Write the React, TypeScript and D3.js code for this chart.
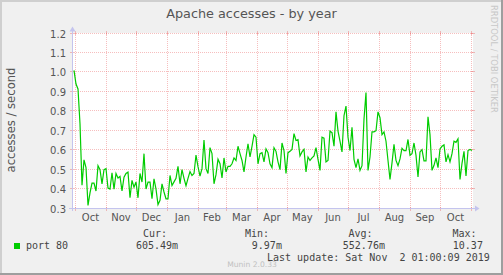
import React from "react";
import * as d3 from "d3";

const title = "Apache accesses - by year";
const yAxisTitle = "accesses / second";
const yTicks = [0.3, 0.4, 0.5, 0.6, 0.7, 0.8, 0.9, 1.0, 1.1, 1.2];
const seriesName = "port 80";
const legendHeaders = ["Cur:", "Min:", "Avg:", "Max:"];
const legendValues = ["605.49m", "9.97m", "552.76m", "10.37"];
const lastUpdate = "Last update: Sat Nov  2 01:00:09 2019";
const footer = "Munin 2.0.33";
const watermark = "RRDTOOL / TOBI OETIKER";

// samples every 2 days starting 2018-09-30 01:00
const seriesStart = new Date(2018, 8, 30, 1);
const stepDays = 2;
const values = [
  1.01, 0.94, 0.915, 0.736, 0.42, 0.55, 0.51, 0.316, 0.38, 0.43,
  0.43, 0.39, 0.52, 0.5, 0.427, 0.5, 0.505, 0.405, 0.4, 0.484,
  0.4, 0.48, 0.457, 0.465, 0.39, 0.461, 0.48, 0.487, 0.355, 0.445,
  0.41, 0.436, 0.355, 0.48, 0.436, 0.582, 0.4, 0.436, 0.436, 0.35,
  0.453, 0.4, 0.32, 0.342, 0.427, 0.385, 0.35, 0.35, 0.47, 0.418,
  0.437, 0.455, 0.517, 0.427, 0.5, 0.455, 0.417, 0.455, 0.49, 0.47,
  0.48, 0.575, 0.515, 0.467, 0.505, 0.652, 0.505, 0.48, 0.613, 0.582,
  0.427, 0.474, 0.553, 0.53, 0.457, 0.56, 0.488, 0.517, 0.517, 0.53,
  0.56, 0.547, 0.62, 0.582, 0.547, 0.488, 0.565, 0.633, 0.565, 0.62,
  0.68, 0.667, 0.53, 0.582, 0.587, 0.54, 0.607, 0.587, 0.53, 0.51,
  0.613, 0.594, 0.54, 0.5, 0.637, 0.598, 0.48, 0.587, 0.594, 0.604,
  0.685, 0.65, 0.654, 0.57, 0.591, 0.604, 0.488, 0.565, 0.547, 0.56,
  0.57, 0.613, 0.553, 0.496, 0.667, 0.662, 0.54, 0.547, 0.698, 0.69,
  0.62, 0.797, 0.698, 0.647, 0.591, 0.777, 0.827, 0.667, 0.598, 0.718,
  0.553, 0.51, 0.555, 0.496, 0.52, 0.76, 0.896, 0.496, 0.565, 0.694,
  0.694, 0.7, 0.797, 0.767, 0.68, 0.694, 0.646, 0.547, 0.45, 0.535,
  0.63, 0.547, 0.52, 0.555, 0.61, 0.598, 0.598, 0.655, 0.573, 0.582,
  0.637, 0.573, 0.462, 0.591, 0.603, 0.545, 0.545, 0.772, 0.68, 0.496,
  0.522, 0.56, 0.51, 0.606, 0.62, 0.627, 0.54, 0.577, 0.54, 0.582,
  0.646, 0.64, 0.658, 0.449, 0.532, 0.594, 0.468, 0.598, 0.604, 0.598,
];

const W = 503;
const H = 275;
const left = 72;
const right = 472;
const top = 33;
const bottom = 208;

const gridColor = "rgba(235,110,110,0.45)";
const axisColor = "#c4c4ee";
const lineColor = "#00cc00";

export default function App() {
  const xDomainStart = new Date(2018, 8, 28, 1);
  const xDomainEnd = new Date(2019, 10, 2, 1);
  const x = d3.scaleTime().domain([xDomainStart, xDomainEnd]).range([left, right]);
  const y = d3.scaleLinear().domain([0.3, 1.2]).range([bottom, top]);

  const data = values.map((v, i) => ({ date: d3.timeDay.offset(seriesStart, i * stepDays), v }));
  const line = d3
    .line<{ date: Date; v: number }>()
    .x((d) => x(d.date))
    .y((d) => y(d.v) + 0.5);

  const monthStarts = d3.timeMonth.range(new Date(2018, 9, 1), new Date(2019, 10, 2));
  const labelMonths = monthStarts.slice(0, -1).map((m, i) => ({
    name: d3.timeFormat("%b")(m),
    cx: (x(m) + x(monthStarts[i + 1])) / 2,
  }));
  const gy = (v: number) => Math.floor(y(v)) + 0.5;
  const gx = (d: Date) => Math.round(x(d)) + 0.5;

  const sans = "DejaVu Sans, sans-serif";
  const mono = "DejaVu Sans Mono, monospace";
  const headerX = [143, 245, 348.5, 452.5];
  const valueX = [136, 251.8, 342.8, 452.8];

  return (
    <svg
      width={W}
      height={H}
      style={{ position: "absolute", left: 0, top: 0, display: "block" }}
    >
      <rect x={0} y={0} width={W} height={H} fill="#f0f0f0" />
      <rect x={0} y={0} width={W} height={2} fill="#cfcfcf" />
      <rect x={0} y={0} width={2} height={H} fill="#cfcfcf" />
      <rect x={0} y={H - 2} width={W} height={2} fill="#9e9e9e" />
      <rect x={W - 2} y={0} width={2} height={H} fill="#9e9e9e" />

      <text x={251.5} y={17.5} textAnchor="middle" fontFamily={sans} fontSize={12.8} fill="#555">
        {title}
      </text>

      <rect x={left} y={top} width={right - left + 1} height={bottom - top} fill="#ffffff" />

      {yTicks.map((t) => (
        <g key={"h" + t}>
          <line x1={left} x2={right + 1} y1={gy(t)} y2={gy(t)} stroke={gridColor} strokeDasharray="1,1" />
          <line x1={left - 2} x2={left + 2} y1={gy(t)} y2={gy(t)} stroke={gridColor} />
          <line x1={right - 1} x2={right + 3} y1={gy(t)} y2={gy(t)} stroke={gridColor} />
          <text x={66} y={gy(t) + 4} textAnchor="end" fontFamily={sans} fontSize={10} fill="#555">
            {t.toFixed(1)}
          </text>
        </g>
      ))}

      {monthStarts.map((m) => (
        <g key={"v" + m.getTime()}>
          <line x1={gx(m)} x2={gx(m)} y1={top} y2={bottom + 1} stroke={gridColor} strokeDasharray="1,1" />
          <line x1={gx(m)} x2={gx(m)} y1={bottom - 1} y2={bottom + 3} stroke={gridColor} />
          <line x1={gx(m)} x2={gx(m)} y1={top - 2} y2={top + 2} stroke={gridColor} />
        </g>
      ))}
      {labelMonths.map((l, i) => (
        <text key={"l" + i} x={l.cx} y={220.5} textAnchor="middle" fontFamily={sans} fontSize={10} fill="#555">
          {l.name}
        </text>
      ))}

      {/* axes */}
      <line x1={left - 3} x2={476} y1={bottom + 0.5} y2={bottom + 0.5} stroke={axisColor} />
      <path d={`M475,205.5 L479.5,208.5 L475,211.5 Z`} fill={axisColor} />
      <line x1={left + 0.5} x2={left + 0.5} y1={bottom + 3} y2={30} stroke={axisColor} />
      <path d={`M69.5,31.5 L72.5,26.5 L75.5,31.5 Z`} fill={axisColor} />

      <path d={line(data) || ""} fill="none" stroke={lineColor} strokeWidth={1.2} />

      <text
        transform="translate(15,120) rotate(-90)"
        textAnchor="middle"
        fontFamily={sans}
        fontSize={11.6}
        fill="#555"
      >
        {yAxisTitle}
      </text>

      <text
        transform="translate(490.8,5) rotate(90)"
        fontFamily={sans}
        fontSize={8.4}
        fill="#c8c8c8"
      >
        {watermark}
      </text>

      {/* legend */}
      {legendHeaders.map((h, i) => (
        <text key={"lh" + i} x={headerX[i]} y={236.5} fontFamily={mono} fontSize={10} fill="#444">
          {h}
        </text>
      ))}
      <rect x={14} y={243} width={6} height={6} fill={lineColor} />
      <text x={26} y={249} fontFamily={mono} fontSize={10} fill="#444">
        {seriesName}
      </text>
      {legendValues.map((v, i) => (
        <text key={"lv" + i} x={valueX[i]} y={249} fontFamily={mono} fontSize={10} fill="#444">
          {v}
        </text>
      ))}
      <text x={267} y={261} fontFamily={mono} fontSize={10} fill="#444" style={{ whiteSpace: "pre" }}>
        {lastUpdate}
      </text>
      <text x={252} y={267} textAnchor="middle" fontFamily={sans} fontSize={7.6} fill="#c0c0c0">
        {footer}
      </text>
    </svg>
  );
}
